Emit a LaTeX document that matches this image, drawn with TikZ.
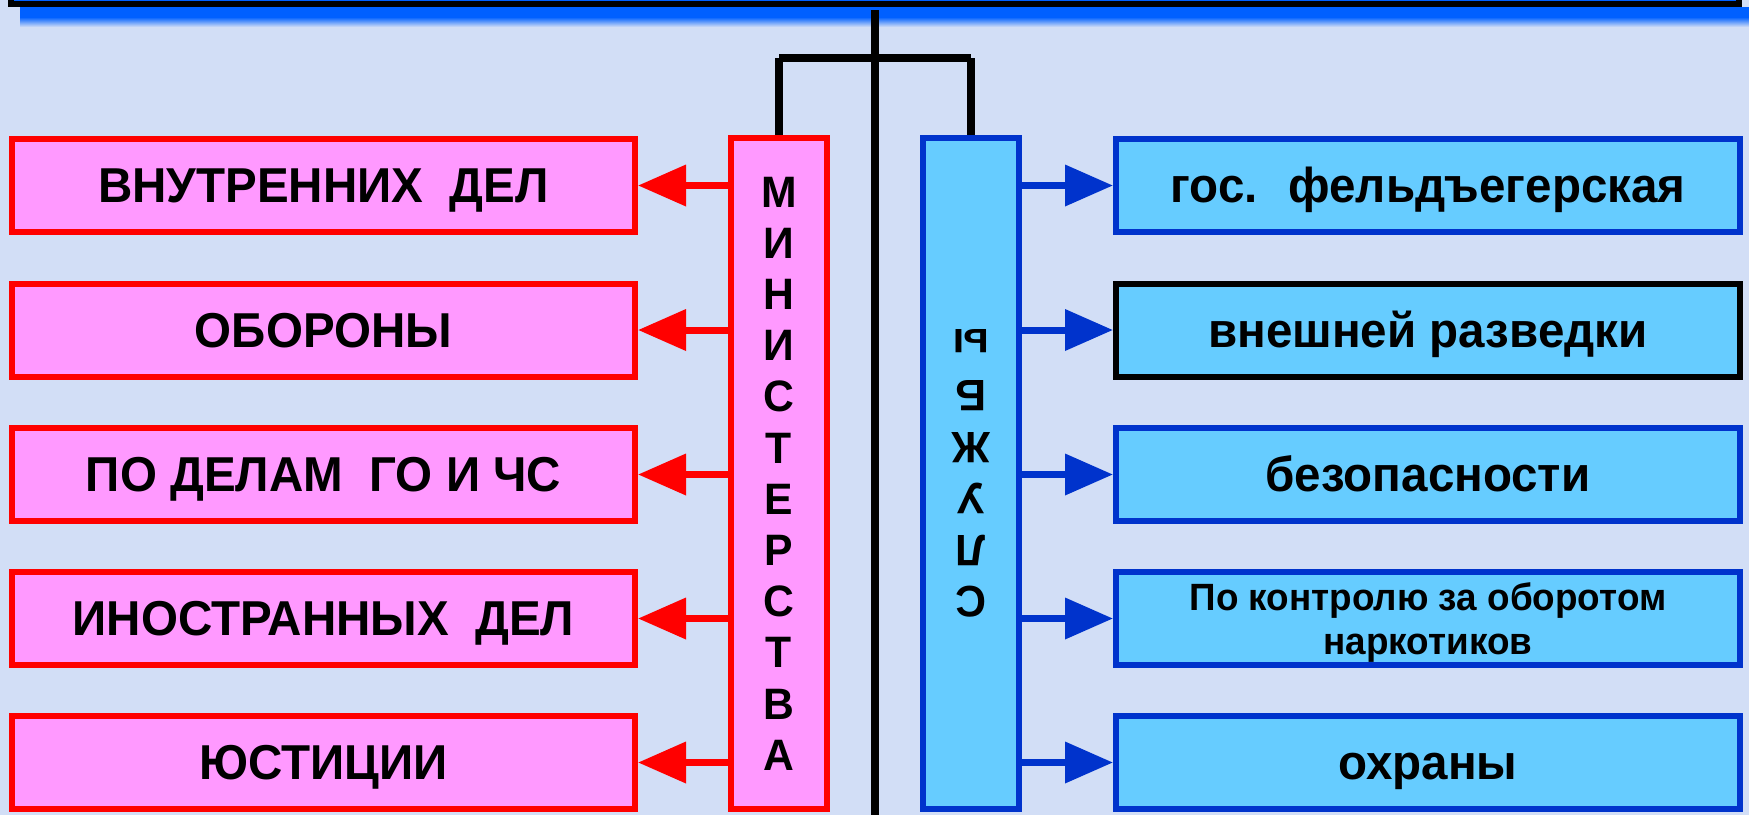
\documentclass[tikz,border=0pt]{standalone}
\usepackage{fontspec}
\setmainfont{Liberation Sans}[FakeStretch=0.97]
\usetikzlibrary{arrows.meta}
\definecolor{bg}{RGB}{210,222,246}
\definecolor{pinkfill}{RGB}{255,153,255}
\definecolor{redline}{RGB}{255,0,0}
\definecolor{bluefill}{RGB}{102,204,255}
\definecolor{blueline}{RGB}{0,51,204}
\definecolor{barblue}{RGB}{0,96,255}
\begin{document}
\begin{tikzpicture}[x=1pt,y=-1pt,
  bigfont/.style={font=\bfseries\fontsize{49}{56}\selectfont, text height=34pt, text depth=0pt},
  lbox/.style={draw=redline, fill=pinkfill, line width=6pt, minimum width=623pt, minimum height=93pt, inner sep=0pt, bigfont},
  rbox/.style={draw=blueline, fill=bluefill, line width=6pt, minimum width=624pt, minimum height=93pt, inner sep=0pt, bigfont},
  colbox/.style={line width=6pt, minimum width=96pt, minimum height=671pt, inner sep=0pt},
  coltext/.style={inner sep=0pt, align=center, font=\bfseries\fontsize{44}{51.2}\selectfont},
  redarr/.style={draw=redline, line width=7pt, -{Triangle[length=48pt,width=40pt]}},
  bluearr/.style={draw=blueline, line width=7pt, -{Triangle[length=48pt,width=40pt]}},
  blk/.style={line width=8pt, draw=black}
]
\useasboundingbox (0,0) rectangle (1749,815);
\fill[bg] (0,0) rectangle (1749,815);
% top bar
\fill[barblue] (20,7) rectangle (1749,17);
\shade[top color=barblue, bottom color=bg] (20,17) rectangle (1749,27);
\fill[black] (8,-5) rectangle (1742,7);
\fill[barblue] (14,-5) rectangle (1736,1);

% column boxes
\node[colbox, draw=redline, fill=pinkfill] (M) at (779,473.5) {};
\node[coltext] (Mt) at (779,473.5) {М\\И\\Н\\И\\С\\Т\\Е\\Р\\С\\Т\\В\\А};
\node[colbox, draw=blueline, fill=bluefill] (S) at (971,473.5) {};
\node[coltext, rotate=180, font=\bfseries\fontsize{44}{51.5}\selectfont] (St) at (971,473.5) {С\\Л\\У\\Ж\\Б\\ы};

% central line and bracket
\coordinate (top) at (875,10);
\coordinate (bot) at (875,815);
\coordinate (bl) at (779,58);
\coordinate (br) at (971,58);
\draw[blk] (top) -- (bot);
\draw[blk] (bl) -- (br);
\draw[blk] (bl) -- (M.north);
\draw[blk] (br) -- (S.north);

% left boxes
\node[lbox] (L1) at (323.5,185.5) {ВНУТРЕННИХ~ ДЕЛ};
\node[lbox] (L2) at (323.5,330) {ОБОРОНЫ};
\node[lbox] (L3) at (323.5,474.5) {ПО ДЕЛАМ~ ГО И ЧС};
\node[lbox] (L4) at (323.5,618.5) {ИНОСТРАННЫХ~ ДЕЛ};
\node[lbox] (L5) at (323.5,762.5) {ЮСТИЦИИ};

% right boxes
\node[rbox] (R1) at (1428,185.5) {гос.~ фельдъегерская};
\node[rbox, draw=black] (R2) at (1428,330) {внешней разведки};
\node[rbox] (R3) at (1428,474.5) {безопасности};
\node[rbox] (R4) at (1428,618.5) {};
\node[align=center, inner sep=0pt, font=\bfseries\fontsize{38}{44}\selectfont] (R4t) at (1428,622) {По контролю за оборотом\\наркотиков};
\node[rbox] (R5) at (1428,762.5) {охраны};

% arrows
\foreach \i in {1,...,5}{
  \draw[redarr] (M.west |- L\i) -- (L\i.east);
  \draw[bluearr] (S.east |- R\i) -- (R\i.west);
}
\end{tikzpicture}
\end{document}
